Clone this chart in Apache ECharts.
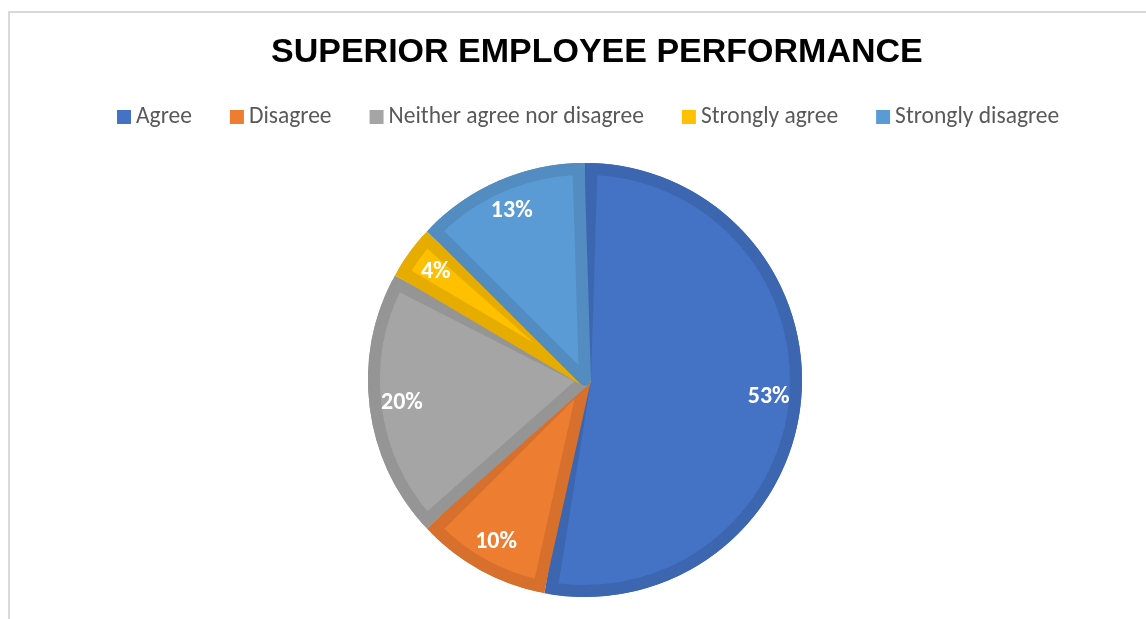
<!DOCTYPE html>
<html>
<head>
<meta charset="utf-8">
<script src="https://cdn.jsdelivr.net/npm/echarts@6/dist/echarts.min.js"></script>
<style>
  html, body { margin: 0; padding: 0; background: #fff; }
  #frame { position: absolute; left: 8px; top: 11px; width: 1150px; height: 620px;
           border-left: 2px solid #d9d9d9; border-top: 2px solid #d9d9d9; box-sizing: border-box; }
  #pie-chart { width: 1146px; height: 619px; position: absolute; left: 0; top: 0; }
</style>
</head>
<body>
<div id="frame"></div>
<div id="pie-chart"></div>
<script>
var categories = ['Agree', 'Disagree', 'Neither agree nor disagree', 'Strongly agree', 'Strongly disagree'];
var shares = [53, 10, 20, 4, 13];
var fillColors = ['#4472C4', '#ED7D31', '#A5A5A5', '#FFC000', '#5B9BD5'];
var edgeColors = ['#3D66B1', '#D6702C', '#959595', '#E6AD00', '#528CC0'];

var chartDom = document.getElementById('pie-chart');
var myChart = echarts.init(chartDom);
var option;

function slices(colors, borders) {
  return categories.map(function (name, i) {
    var style = { color: colors[i] };
    if (borders) style.borderColor = borders[i];
    return { name: name, value: shares[i], itemStyle: style };
  });
}

option = {
  animation: false,
  title: {
    text: 'SUPERIOR EMPLOYEE PERFORMANCE',
    left: 266,
    top: 31,
    textStyle: { fontFamily: 'Liberation Sans, Arial', fontWeight: 'bold', fontSize: 34, color: '#000' }
  },
  legend: {
    top: 100,
    left: 112,
    icon: 'rect',
    itemWidth: 14,
    itemHeight: 14,
    itemGap: 38,
    textStyle: { fontFamily: 'Carlito, Lato', fontSize: 23.5, color: '#595959' },
    data: categories.map(function (name, i) {
      return { name: name, itemStyle: { color: fillColors[i] } };
    })
  },
  series: [
    {
      // darker rim underneath
      type: 'pie',
      center: [585, 380],
      radius: [0, 217],
      startAngle: 90,
      clockwise: true,
      silent: true,
      label: { show: false },
      labelLine: { show: false },
      data: slices(edgeColors)
    },
    {
      // lighter body on top, inset by its own darker stroke
      type: 'pie',
      center: [585, 380],
      radius: [0, 211],
      startAngle: 90,
      padAngle: 3.5,
      clockwise: true,
      itemStyle: { borderWidth: 12, borderJoin: 'round' },
      label: { show: false },
      labelLine: { show: false },
      data: slices(fillColors, edgeColors)
    },
    {
      // percentage labels
      type: 'pie',
      center: [585, 380],
      radius: [146, 217],
      startAngle: 90,
      clockwise: true,
      silent: true,
      itemStyle: { color: 'transparent' },
      label: {
        show: true,
        position: 'inside',
        formatter: '{c}%',
        color: '#fff',
        fontFamily: 'Carlito, Lato',
        fontWeight: 'bold',
        fontSize: 24
      },
      labelLine: { show: false },
      data: categories.map(function (name, i) {
        return { name: name, value: shares[i] };
      })
    }
  ]
};

option && myChart.setOption(option);
</script>
</body>
</html>
